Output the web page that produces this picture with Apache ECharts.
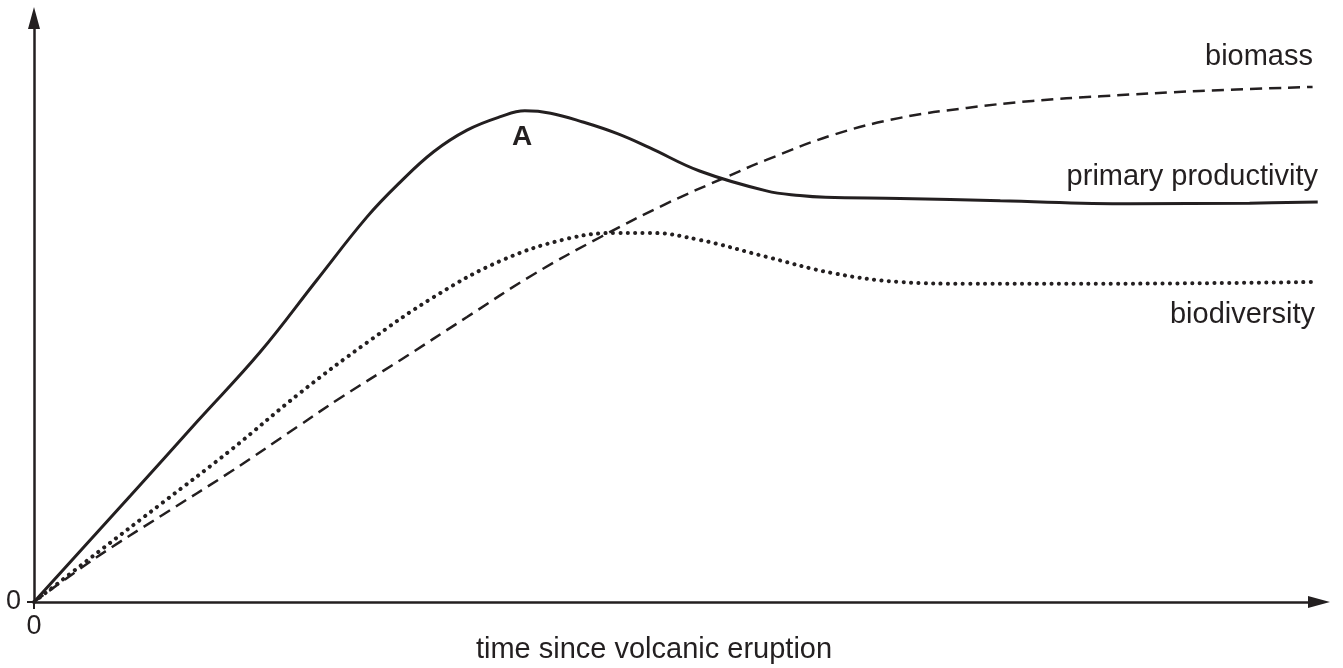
<!DOCTYPE html>
<html>
<head>
<meta charset="utf-8">
<script src="https://cdn.jsdelivr.net/npm/echarts@6/dist/echarts.min.js"></script>
<style>
html,body{margin:0;padding:0;background:#fff;}
#chart{width:1343px;height:668px;}
</style>
</head>
<body>
<div id="chart"></div>
<script>
// time (0..100 arbitrary units) and values (0..100 arbitrary units)
const productivityTime = [0, 7.5, 12.7, 17.6, 22.0, 25.9, 28.5, 31.1, 33.7, 36.3, 38.2, 40.2, 42.7, 45.4, 47.9, 51.8, 57.0, 59.6, 61.6, 67.4, 75.2, 85.3, 94.6, 99.9];
const productivityValue = [0, 18.2, 30.9, 42.8, 55.1, 65.9, 71.9, 77.1, 80.8, 83.1, 84.1, 83.7, 82.2, 80.2, 77.8, 73.8, 70.4, 69.6, 69.3, 69.1, 68.7, 68.2, 68.3, 68.5];

const biomassTime = [0, 4.9, 10.0, 15.3, 20.5, 23.8, 28.5, 33.7, 38.8, 44.1, 49.3, 53.9, 57.0, 62.2, 67.4, 72.6, 77.7, 83.0, 90.7, 99.5];
const biomassValue = [0, 7.7, 14.9, 22.3, 30.0, 34.9, 41.4, 48.8, 56.0, 62.5, 68.3, 72.8, 75.7, 80.0, 82.9, 84.6, 85.8, 86.6, 87.5, 88.2];

const biodiversityTime = [0, 4.9, 10.0, 15.3, 20.7, 25.9, 31.1, 36.3, 41.5, 45.4, 47.9, 51.8, 57.0, 62.2, 67.4, 72.6, 83.0, 99.7];
const biodiversityValue = [0, 8.4, 17.0, 26.0, 35.8, 44.4, 52.2, 58.4, 62.2, 63.2, 63.2, 62.0, 59.1, 56.3, 54.8, 54.5, 54.5, 54.8];

const axisTickValues = [0];
const xAxisTitle = 'time since volcanic eruption';
const seriesNames = ['primary productivity', 'biomass', 'biodiversity'];

function pairs(xs, ys) { return xs.map((x, i) => [x, ys[i]]); }

const ink = '#231f20';
const font = '"Liberation Sans", Arial, Helvetica, sans-serif';

const chart = echarts.init(document.getElementById('chart'), null, {renderer: 'canvas'});
chart.setOption({
  backgroundColor: '#ffffff',
  animation: false,
  grid: {left: 34, right: 24, top: 18, bottom: 66, containLabel: false},
  xAxis: {
    type: 'value', min: 0, max: 100,
    axisLine: {show: true, symbol: ['none', 'triangle'], symbolSize: [12, 22], lineStyle: {color: ink, width: 2.5}},
    axisTick: {show: true, customValues: axisTickValues, length: 7, lineStyle: {color: ink, width: 2}},
    axisLabel: {show: true, customValues: axisTickValues, margin: 11, color: ink, fontSize: 27, fontFamily: font},
    splitLine: {show: false}
  },
  yAxis: {
    type: 'value', min: 0, max: 100,
    axisLine: {show: true, symbol: ['none', 'triangle'], symbolSize: [12, 22], lineStyle: {color: ink, width: 2.5}},
    axisTick: {show: true, customValues: axisTickValues, length: 7, lineStyle: {color: ink, width: 2}},
    axisLabel: {show: true, customValues: axisTickValues, margin: 13, color: ink, fontSize: 27, fontFamily: font},
    splitLine: {show: false}
  },
  graphic: [
    {type: 'text', x: 654, y: 650, style: {text: xAxisTitle, fill: ink, font: '29px ' + font, textAlign: 'center', textVerticalAlign: 'middle'}},
    {type: 'text', x: 1313, y: 57, style: {text: seriesNames[1], fill: ink, font: '29px ' + font, textAlign: 'right', textVerticalAlign: 'middle'}},
    {type: 'text', x: 1318, y: 177, style: {text: seriesNames[0], fill: ink, font: '29px ' + font, textAlign: 'right', textVerticalAlign: 'middle'}},
    {type: 'text', x: 1315, y: 315, style: {text: seriesNames[2], fill: ink, font: '29px ' + font, textAlign: 'right', textVerticalAlign: 'middle'}},
    {type: 'text', x: 522, y: 137, style: {text: 'A', fill: ink, font: 'bold 28px ' + font, textAlign: 'center', textVerticalAlign: 'middle'}}
  ],
  series: [
    {name: seriesNames[0], type: 'line', data: pairs(productivityTime, productivityValue), smooth: 0.4, showSymbol: false,
     lineStyle: {color: ink, width: 3}},
    {name: seriesNames[1], type: 'line', data: pairs(biomassTime, biomassValue), smooth: 0.4, showSymbol: false,
     lineStyle: {color: ink, width: 2.5, type: [12, 7]}},
    {name: seriesNames[2], type: 'line', data: pairs(biodiversityTime, biodiversityValue), smooth: 0.4, showSymbol: false,
     lineStyle: {color: ink, width: 4, type: [0.1, 7.3], cap: 'round'}}
  ]
});
</script>
</body>
</html>
